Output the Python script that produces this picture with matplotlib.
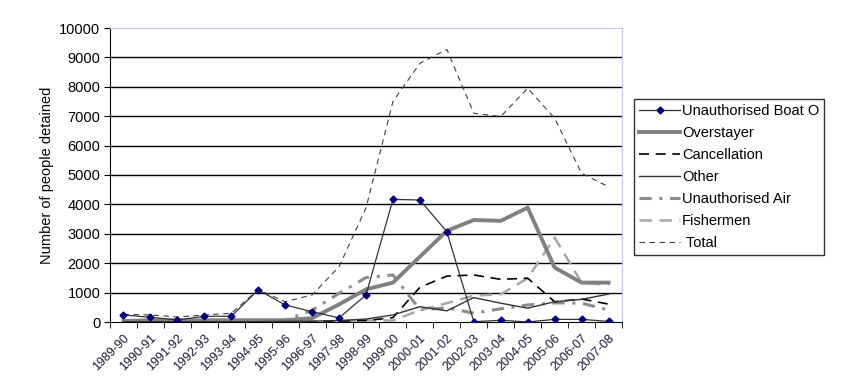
import matplotlib
matplotlib.use("Agg")
import matplotlib.pyplot as plt
import numpy as np

plt.rcParams['font.family'] = ['Liberation Sans', 'DejaVu Sans']

years = ["1989-90", "1990-91", "1991-92", "1992-93", "1993-94", "1994-95",
         "1995-96", "1996-97", "1997-98", "1998-99", "1999-00", "2000-01",
         "2001-02", "2002-03", "2003-04", "2004-05", "2005-06", "2006-07",
         "2007-08"]

boat = [240, 160, 70, 195, 195, 1090, 580, 350, 140, 920, 4170, 4150,
        3070, 10, 60, 0, 90, 90, 20]
overstayer = [30, 60, 60, 60, 60, 60, 60, 130, 600, 1110, 1340, 2220,
              3100, 3470, 3440, 3890, 1850, 1340, 1340]
cancellation = [0, 0, 0, 0, 0, 0, 0, 10, 30, 50, 150, 1180,
                1560, 1600, 1450, 1490, 690, 780, 610]
other = [10, 10, 10, 10, 10, 10, 20, 30, 50, 100, 240, 520,
         380, 830, 640, 470, 690, 770, 950]
unauth_air = [0, 0, 0, 0, 0, 0, 60, 400, 975, 1510, 1600, 420,
              480, 300, 450, 580, 650, 640, 410]
fishermen = [0, 0, 0, 0, 0, 0, 0, 0, 20, 50, 50, 400,
             640, 900, 940, 1490, 2870, 1340, 1260]
total = [260, 240, 170, 240, 295, 1100, 690, 920, 1880, 3880, 7500, 8800,
         9270, 7100, 6990, 7950, 6930, 5060, 4600]

x = np.arange(len(years))

fig = plt.figure(figsize=(8.58, 3.83), dpi=100)
ax = fig.add_axes([110 / 858, 1 - 322 / 383, 512 / 858, 294 / 383])

for y in range(1000, 10000, 1000):
    ax.axhline(y, color="black", lw=1, zorder=1)

ax.plot(x, boat, color="#333333", lw=0.9, marker="D", ms=3.5,
        mfc="#000080", mec="#000080", label="Unauthorised Boat O", zorder=5)
ax.plot(x, overstayer, color="#808080", lw=2.8, label="Overstayer", zorder=4)
ax.plot(x, cancellation, color="black", lw=1.2, dashes=(6, 4),
        label="Cancellation", zorder=4)
ax.plot(x, other, color="#333333", lw=1.0, label="Other", zorder=4)
ax.plot(x, unauth_air, color="#8c8c8c", lw=2.2, dashes=(4, 2.5, 1, 2.5),
        label="Unauthorised Air", zorder=3)
ax.plot(x, fishermen, color="#a6a6a6", lw=1.8, dashes=(5, 3),
        label="Fishermen", zorder=3)
ax.plot(x, total, color="#404040", lw=0.8, dashes=(5, 4),
        label=" Total", zorder=3)

ax.set_xlim(-0.5, len(years) - 0.5)
ax.set_ylim(0, 10000)
ax.set_yticks(range(0, 10001, 1000))
ax.tick_params(axis="y", labelsize=10.5, length=4, direction="out", pad=3)

ax.set_xticks(x)
ax.set_xticklabels(years, rotation=45, ha="right", rotation_mode="anchor",
                   fontsize=9, color="#1a1a3a")
ax.tick_params(axis="x", length=0, pad=7)
ax.set_xticks(np.arange(-0.5, len(years), 1), minor=True)
ax.tick_params(axis="x", which="minor", length=4, direction="out")

ax.set_ylabel("Number of people detained", fontsize=10.5, labelpad=4)

for side in ["top", "right"]:
    ax.spines[side].set_color("#c4c4ff")
for side in ["left", "bottom"]:
    ax.spines[side].set_color("black")

leg = ax.legend(loc="upper left", bbox_to_anchor=(634 / 858, 1 - 99 / 383),
                bbox_transform=fig.transFigure, fontsize=10.5, frameon=True,
                fancybox=False, edgecolor="black", borderaxespad=0,
                handlelength=2.8, handletextpad=0.15, labelspacing=0.55,
                borderpad=0.35)
leg.get_frame().set_linewidth(1)

fig.savefig("out.png", dpi=100)
